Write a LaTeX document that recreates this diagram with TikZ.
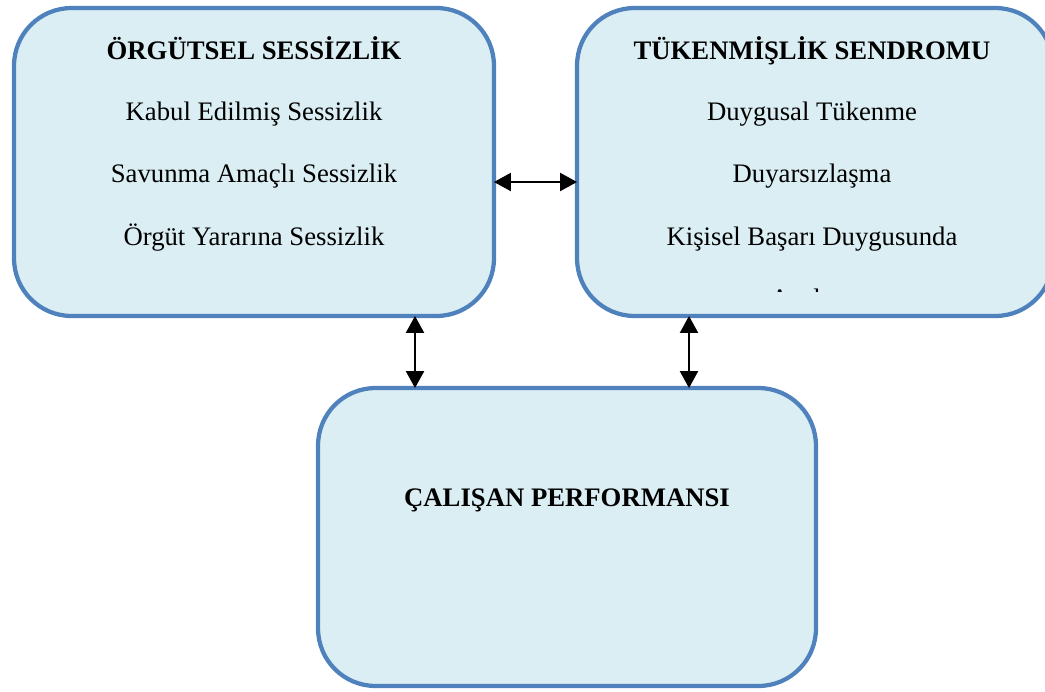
\documentclass[tikz,border=0pt]{standalone}
\usepackage{fontspec}
\setmainfont{Liberation Serif}
\usetikzlibrary{arrows.meta,positioning}
\definecolor{boxfill}{HTML}{DAEEF3}
\definecolor{boxline}{HTML}{4F81BD}

\begin{document}
\begin{tikzpicture}[
    x=0.02cm, y=-0.02cm,
    box/.style={rectangle, draw=boxline, fill=boxfill, line width=0.085cm, rounded corners=1.15cm, inner sep=0pt, outer sep=0pt},
    txt/.style={font=\fontsize{15.2}{18}\selectfont, inner sep=0pt, anchor=base},
    heading/.style={txt, font=\fontsize{15.2}{18}\selectfont\bfseries},
    arrow/.style={{Triangle[length=0.34cm,width=0.36cm]}-{Triangle[length=0.34cm,width=0.36cm]}, line width=0.045cm}
]
    \useasboundingbox (0,0) rectangle (1045,691);
    \clip (0,0) rectangle (1045,691);

    % Boxes
    \node[box, minimum width=9.6cm, minimum height=6.16cm] (org) at (254,162) {};
    \node[box, minimum width=9.52cm, minimum height=6.16cm] (tuk) at (815,162) {};
    \node[box, minimum width=9.96cm, minimum height=5.96cm] (perf) at (567,537) {};

    % Texts
    \node[heading] (orgTitle) at (254,59) {ÖRGÜTSEL SESSİZLİK};
    \node[txt] (org1) at (254,120) {Kabul Edilmiş Sessizlik};
    \node[txt] (org2) at (254,182) {Savunma Amaçlı Sessizlik};
    \node[txt] (org3) at (254,245) {Örgüt Yararına Sessizlik};

    \node[heading] (tukTitle) at (812,59) {TÜKENMİŞLİK SENDROMU};
    \node[txt] (tuk1) at (812,120) {Duygusal Tükenme};
    \node[txt] (tuk2) at (812,182) {Duyarsızlaşma};
    \node[txt] (tuk3) at (812,245) {Kişisel Başarı Duygusunda};
    \begin{scope}
        \clip (600,260) rectangle (1040,291);
        \node[txt] (tuk4) at (812,307) {Azalma};
    \end{scope}

    \node[heading] (perfTitle) at (567,506) {ÇALIŞAN PERFORMANSI};

    % Arrows
    \draw[arrow] (org.east |- 0,182) -- (tuk.west |- 0,182);
    \draw[arrow] (org.south -| 415,0) -- (perf.north -| 415,0);
    \draw[arrow] (tuk.south -| 689,0) -- (perf.north -| 689,0);

\end{tikzpicture}
\end{document}
